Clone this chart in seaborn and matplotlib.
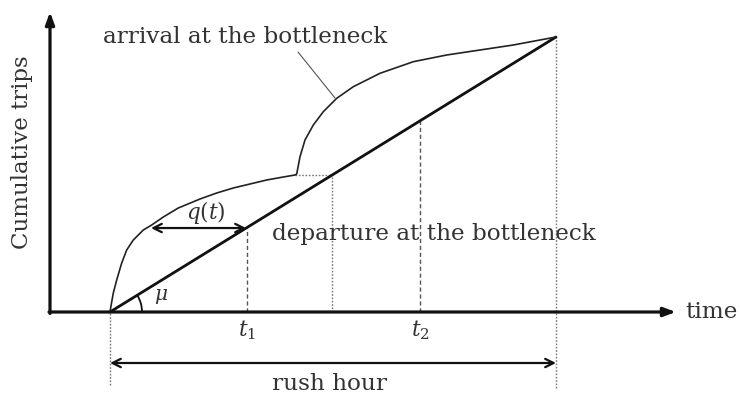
import numpy as np
import matplotlib
matplotlib.use("Agg")
import matplotlib.pyplot as plt
from matplotlib.patches import Arc
import seaborn as sns

sns.set_theme(style="white")
plt.rcParams["font.family"] = ["DejaVu Serif"]
plt.rcParams["mathtext.fontset"] = "dejavuserif"

# Cumulative arrivals at the bottleneck (time, trips)
arrival_t = [60, 61.5, 63.3, 66.7, 71.7, 76.7, 83.3, 93.3, 101.7, 113.3, 128.3,
             150, 166.7, 183.3, 200, 216.7, 233.3, 245,
             246.7, 250, 255, 263.3, 273.3, 286.7, 303.3, 330, 363.3, 396.7,
             430, 463.3, 506]
arrival_n = [0, 9, 19, 32, 49, 62, 72, 82, 87, 95, 104,
             113, 119, 124, 128, 132, 135, 137,
             138, 155.3, 172, 187, 200.3, 213.7, 225.3, 238.7, 250.3, 257,
             262, 267, 275]

# Cumulative departures: constant bottleneck capacity mu
departure_t = [60, 506]
departure_n = [0, 275]

rush_start, rush_end = 60, 506
t1, t2 = 197, 370
t_queue_peak = 245          # arrival surge begins
t_queue_match = 282         # departures catch up with the plateau level
n_queue_peak = 137

mu = (departure_n[1] - departure_n[0]) / (departure_t[1] - departure_t[0])


def dep(t):
    return departure_n[0] + mu * (t - departure_t[0])


fig = plt.figure(figsize=(7.4, 3.94), dpi=100)
ax = fig.add_axes([0, 0, 1, 1])
ax.set_xlim(-50, 690)
ax.set_ylim(-82, 312)
ax.axis("off")

ink = "#111111"
txt = "#333333"
guide = "#777777"
label_size = 16.7

# axes with arrowheads
ax.annotate("", xy=(0, 300), xytext=(0, -1.5),
            arrowprops=dict(arrowstyle="-|>,head_length=0.6,head_width=0.22",
                            lw=2.3, color=ink, shrinkA=0, shrinkB=0))
ax.annotate("", xy=(626, 0), xytext=(-1, 0),
            arrowprops=dict(arrowstyle="-|>,head_length=0.6,head_width=0.22",
                            lw=2.3, color=ink, shrinkA=0, shrinkB=0))

# guide lines
ax.plot([t_queue_peak, t_queue_match], [n_queue_peak, n_queue_peak],
        ls=(0, (1.2, 1.2)), lw=1.0, color=guide)
ax.plot([t_queue_match, t_queue_match], [0, dep(t_queue_match)],
        ls=(0, (1.2, 1.2)), lw=1.0, color=guide)
ax.plot([rush_start, rush_start], [-73, 0], ls=(0, (1.2, 1.2)), lw=1.0, color=guide)
ax.plot([rush_end, rush_end], [-76, departure_n[1]], ls=(0, (1.2, 1.2)), lw=1.0, color=guide)
for tt in (t1, t2):
    ax.plot([tt, tt], [0, dep(tt)], ls=(0, (3, 2)), lw=1.0, color="#555555")

# curves
sns.lineplot(x=departure_t, y=departure_n, ax=ax, color=ink, lw=2.0,
             sort=False, estimator=None)
sns.lineplot(x=arrival_t, y=arrival_n, ax=ax, color="#222222", lw=1.2,
             sort=False, estimator=None)

# leader from label to the arrival curve
ax.plot([248, 285], [260, 214], color="#555555", lw=0.8)

# queue length arrow
ax.annotate("", xy=(t1 - 1, dep(t1) - 0.5), xytext=(101, dep(t1) - 0.5),
            arrowprops=dict(arrowstyle="<->,head_length=0.5,head_width=0.25",
                            lw=1.6, color=ink, shrinkA=0, shrinkB=0))
ax.text(156, 99, r"$q(t)$", fontsize=15.5, color=txt, ha="center", va="center")

# capacity angle
ang = np.degrees(np.arctan(mu))
ax.add_patch(Arc((rush_start, 0), 64, 64, theta1=0, theta2=ang, color=ink, lw=1.3))
ax.text(111, 16, r"$\mu$", fontsize=14.5, color=txt, ha="center", va="center")

# time marks
ax.text(t1, -18, r"$t_1$", fontsize=15.5, color=txt, ha="center", va="center")
ax.text(t2, -18, r"$t_2$", fontsize=15.5, color=txt, ha="center", va="center")

# rush hour span
ax.annotate("", xy=(rush_end, -51), xytext=(rush_start, -51),
            arrowprops=dict(arrowstyle="<->,head_length=0.5,head_width=0.25",
                            lw=1.6, color=ink, shrinkA=0, shrinkB=0))
ax.text((rush_start + rush_end) / 2 - 3, -78, "rush hour", fontsize=label_size,
        color=txt, ha="center", va="baseline")

# labels
ax.text(53, 269, "arrival at the bottleneck", fontsize=label_size, color=txt,
        ha="left", va="baseline")
ax.text(222, 72, "departure at the bottleneck", fontsize=label_size, color=txt,
        ha="left", va="baseline")
ax.text(635, -6, "time", fontsize=label_size, color=txt, ha="left", va="baseline")
ax.text(-28, 160, "Cumulative trips", fontsize=16.5, color=txt, rotation=90,
        ha="center", va="center")

fig.savefig("out.png", dpi=100)
